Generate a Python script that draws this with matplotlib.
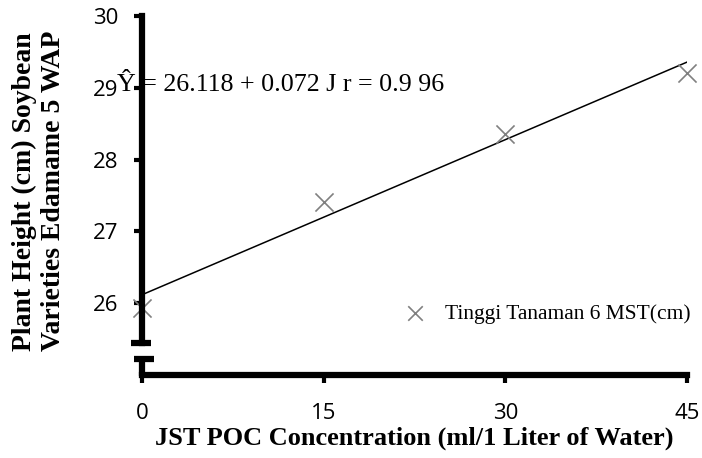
import matplotlib
matplotlib.use("Agg")
import matplotlib.pyplot as plt
import numpy as np

# data
concentration = [0, 15, 30, 45]
plant_height = [25.93, 27.41, 28.36, 29.21]
intercept = 26.118
slope = 0.072
x_ticks = [0, 15, 30, 45]
y_ticks = [26, 27, 28, 29, 30]
series_label = "Tinggi Tanaman 6 MST(cm)"
equation = "\u0176 = 26.118 + 0.072 J r = 0.9 96"

serif = "Liberation Serif"
sans = "Open Sans"
spine_w = 4.5

fig = plt.figure(figsize=(7.02, 4.58), dpi=100)
ax = fig.add_axes([0.2023, 0.1812, 0.7763, 0.7838])

ax.scatter(concentration, plant_height, marker="x", s=170, color="#808080",
           linewidths=1.2, label=series_label, zorder=3, clip_on=False)

x_line = np.array([concentration[0], concentration[-1]])
ax.plot(x_line, intercept + slope * x_line, color="black", lw=1.1, zorder=2)

ax.set_xlim(0, 45)
ax.set_ylim(25, 30)
ax.set_xticks(x_ticks)
ax.set_yticks(y_ticks)

for s in ["top", "right"]:
    ax.spines[s].set_visible(False)
for s in ["left", "bottom"]:
    ax.spines[s].set_linewidth(spine_w)
    ax.spines[s].set_zorder(4)
ax.spines["left"].set_bounds(25.45, 30)

# axis break: caps and the short lower stub of the y axis
tr = ax.get_yaxis_transform()
ax.plot([-0.021, 0.017], [25.45, 25.45], transform=tr, color="black",
        lw=spine_w, solid_capstyle="butt", clip_on=False)
ax.plot([-0.015, 0.022], [25.22, 25.22], transform=tr, color="black",
        lw=spine_w, solid_capstyle="butt", clip_on=False)
ax.plot([0, 0], [25.22, 24.98], transform=tr, color="black",
        lw=spine_w, solid_capstyle="butt", clip_on=False)

ax.tick_params(axis="both", direction="out", length=6, width=3, colors="black")
ax.tick_params(axis="y", pad=11)
ax.tick_params(axis="x", pad=14)
for lab in ax.get_xticklabels() + ax.get_yticklabels():
    lab.set_fontfamily(sans)
    lab.set_fontsize(16)

ax.text(-0.046, 0.791, equation, transform=ax.transAxes, fontfamily=serif,
        fontsize=18.7, va="baseline", ha="left", zorder=1)

ax.set_xlabel("JST POC Concentration (ml/1 Liter of Water)", fontfamily=serif,
              fontweight="bold", fontsize=19, labelpad=2)
fig.text(39 / 702, 1 - 191 / 458,
         "Plant Height (cm) Soybean\nVarieties Edamame 5 WAP",
         fontfamily=serif, fontweight="bold", fontsize=20, rotation=90,
         ha="center", va="center", multialignment="left", linespacing=1.2)

ax.legend(loc="center left", bbox_to_anchor=(0.462, 0.17), frameon=False,
          prop={"family": serif, "size": 15.5}, handletextpad=0.8,
          handlelength=1.2, borderaxespad=0, markerscale=0.8)

fig.savefig("out.png", dpi=100)
